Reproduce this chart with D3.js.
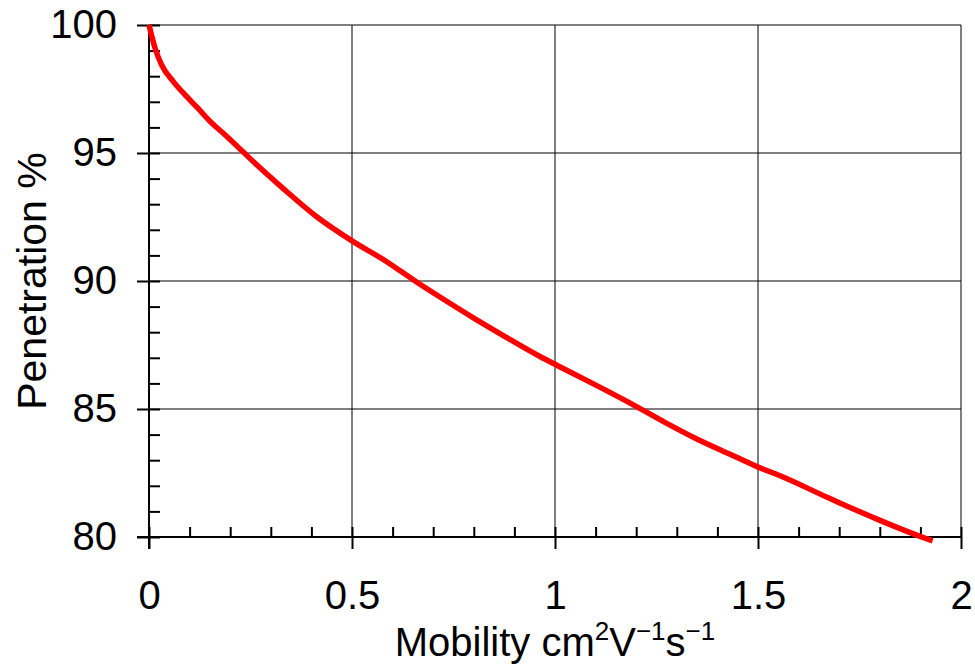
<!DOCTYPE html>
<html>
<head>
<meta charset="utf-8">
<script src="https://cdn.jsdelivr.net/npm/d3@7"></script>
<style>
  body { margin: 0; background: #fff; }
  text { font-family: "Liberation Sans", Arial, sans-serif; fill: #000; }
</style>
</head>
<body>
<script>
// SVG size
var width = 975,
    height = 664;

// Curve
var mobility = [0, 0.015, 0.031, 0.060, 0.093, 0.121, 0.150, 0.183, 0.224, 0.249,
                0.330, 0.413, 0.503, 0.577, 0.659, 0.741, 0.798, 0.880, 0.962, 1.003,
                1.085, 1.184, 1.266, 1.348, 1.430, 1.499, 1.553, 1.676, 1.700,
                1.799, 1.880, 1.930];
var penetration = [100, 99.09, 98.44, 97.79, 97.20, 96.74, 96.24, 95.77, 95.16, 94.78,
                   93.62, 92.51, 91.54, 90.84, 89.96, 89.13, 88.57, 87.80, 87.06, 86.72,
                   86.06, 85.24, 84.52, 83.84, 83.24, 82.74, 82.40, 81.51, 81.34,
                   80.66, 80.14, 79.85];

var xTicks = [0, 0.5, 1, 1.5, 2];
var yTicks = [80, 85, 90, 95, 100];
var xMinor = d3.range(0, 2.0001, 0.1);
var yMinor = d3.range(80, 100.0001, 1);

var margin = {left: 149, right: 14, top: 25, bottom: 127};

var svg = d3.select("body").append("svg")
  .attr("width", width)
  .attr("height", height);

// Scales
var x = d3.scaleLinear().domain([0, 2]).range([margin.left, width - margin.right]);
var y = d3.scaleLinear().domain([80, 100]).range([height - margin.bottom, margin.top]);

// Grid lines
svg.append("g")
  .selectAll("line")
  .data(xTicks.slice(1))
  .enter().append("line")
    .attr("x1", function(d){ return x(d); })
    .attr("x2", function(d){ return x(d); })
    .attr("y1", y(100))
    .attr("y2", y(80))
    .attr("stroke", "#000")
    .attr("stroke-width", 1);

svg.append("g")
  .selectAll("line")
  .data(yTicks.slice(1))
  .enter().append("line")
    .attr("x1", x(0))
    .attr("x2", x(2))
    .attr("y1", function(d){ return y(d); })
    .attr("y2", function(d){ return y(d); })
    .attr("stroke", "#000")
    .attr("stroke-width", 1);

// Minor ticks (inside)
var xMinorAxis = d3.axisTop(x).tickValues(xMinor).tickSize(10).tickFormat("");
svg.append("g")
  .attr("transform", "translate(0," + y(80) + ")")
  .call(xMinorAxis)
  .call(function(g){ g.select(".domain").remove(); })
  .selectAll("line").attr("stroke-width", 2);

var yMinorAxis = d3.axisRight(y).tickValues(yMinor).tickSize(11).tickFormat("");
svg.append("g")
  .attr("transform", "translate(" + x(0) + ",0)")
  .call(yMinorAxis)
  .call(function(g){ g.select(".domain").remove(); })
  .selectAll("line").attr("stroke-width", 2);

// Major axes
var xAxis = d3.axisBottom(x).tickValues(xTicks).tickSize(12).tickSizeOuter(0).tickPadding(32)
  .tickFormat(function(d){ return d; });
var gx = svg.append("g")
  .attr("transform", "translate(0," + y(80) + ")")
  .call(xAxis);
gx.select(".domain").attr("stroke-width", 2).attr("d", "M" + (x(0) - 12) + ",0H" + x(2));
gx.selectAll("line").attr("stroke-width", 2);
gx.selectAll("text")
  .style("font-family", "Liberation Sans, Arial, sans-serif")
  .style("font-size", "40px");

var yAxis = d3.axisLeft(y).tickValues(yTicks).tickSize(12).tickSizeOuter(0).tickPadding(20);
var gy = svg.append("g")
  .attr("transform", "translate(" + x(0) + ",0)")
  .call(yAxis);
gy.select(".domain").attr("stroke-width", 2).attr("d", "M0," + y(100) + "V" + (y(80) + 12));
gy.selectAll("line").attr("stroke-width", 2);
gy.selectAll("text")
  .style("font-family", "Liberation Sans, Arial, sans-serif")
  .style("font-size", "40px");

// Data line
var line = d3.line()
  .x(function(d, i){ return x(mobility[i]); })
  .y(function(d, i){ return y(penetration[i]); })
  .curve(d3.curveMonotoneX);

svg.append("path")
  .datum(mobility)
  .attr("d", line)
  .attr("fill", "none")
  .attr("stroke", "#ff0000")
  .attr("stroke-width", 5.5);

// Axis labels
var xl = svg.append("text")
  .attr("x", (x(0) + x(2)) / 2)
  .attr("y", 656)
  .attr("text-anchor", "middle")
  .style("font-size", "40px");
xl.append("tspan").text("Mobility cm");
xl.append("tspan").attr("dy", -16).style("font-size", "26px").text("2");
xl.append("tspan").attr("dy", 16).text("V");
xl.append("tspan").attr("dy", -16).style("font-size", "26px").text("\u22121");
xl.append("tspan").attr("dy", 16).text("s");
xl.append("tspan").attr("dy", -16).style("font-size", "26px").text("\u22121");

svg.append("text")
  .attr("transform", "translate(46," + ((y(80) + y(100)) / 2) + ") rotate(-90)")
  .attr("text-anchor", "middle")
  .style("font-size", "41px")
  .text("Penetration %");
</script>
</body>
</html>
